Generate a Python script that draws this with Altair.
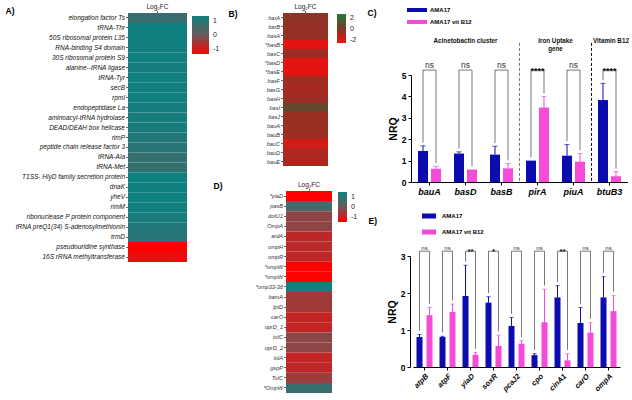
import json

import altair as alt
import pandas as pd

FONT = "Liberation Sans"
LFC = "Log\u2082FC"
BLUE = "#0b0bb0"
PINK = "#f54bd6"
GROUPS = ["AMA17", "AMA17 vit B12"]

# ---------------- A) log2 fold change: translation / stress genes ----------------
a_genes = [
    "elongation factor Ts", "tRNA-Thr", "50S ribosomal protein L35", "RNA-binding S4 domain",
    "30S ribosomal protein S9", "alanine--tRNA ligase", "tRNA-Tyr", "secB", "rpmI",
    "endopeptidase La", "aminoacyl-tRNA hydrolase", "DEAD/DEAH box helicase", "rimP",
    "peptide chain release factor 3", "tRNA-Ala", "tRNA-Met", "T1SS- HlyD family secretion protein",
    "dnaK", "yheV", "rimM", "ribonuclease P protein component",
    "tRNA preQ1(34) S-adenosylmethionin", "trmD", "pseudouridine synthase",
    "16S rRNA methyltransferase",
]
a_lfc = [0.75, 1.4, 1.35, 1.35, 1.35, 1.3, 1.35, 1.35, 1.35, 1.3, 1.3, 1.25, 1.1, 1.0,
         0.85, 0.85, 1.4, 1.4, 1.4, 1.35, 1.25, 1.1, 1.0, -1.4, -1.2]

# ---------------- B) acinetobactin cluster ----------------
b_genes = ["barA", "barB", "basA", "*basB", "basC", "*basD", "*basE", "basF", "basG",
           "basH", "basI", "basJ", "bauA", "bauB", "bauC", "bauD", "bauE"]
b_lfc = [-0.35, -0.45, -0.45, -1.8, -0.6, -1.8, -1.8, -0.65, -0.75,
         -0.6, 0.45, -0.55, -0.5, -0.6, -1.5, -0.9, -0.85]

# ---------------- D) membrane / transport genes ----------------
d_genes = ["*yiaD", "pasB", "dotU1", "OmpA", "ardA", "ompH", "ompR", "*ompW", "*ompW",
           "*omp33-36", "bamA", "lptD", "carO", "oprD_1", "tolC", "oprD_2", "lolA",
           "gspP", "TolC", "*OmpW"]
d_lfc = [-1.5, 0.5, -0.35, -0.35, -0.85, -0.8, -0.85, -1.5, -1.5,
         1.4, -0.55, -0.55, -0.9, -0.9, -0.32, -0.35, -0.9, -0.85, -0.5, 0.8]

# ---------------- C) qPCR, iron uptake genes ----------------
c_genes = ["bauA", "basD", "basB", "pirA", "piuA", "btuB3"]
c_ama = [1.45, 1.33, 1.28, 1.0, 1.23, 3.83]
c_ama_err = [0.24, 0.08, 0.39, 0.0, 0.52, 0.78]
c_b12 = [0.62, 0.58, 0.64, 3.48, 0.95, 0.27]
c_b12_err = [0.11, 0.0, 0.22, 0.52, 0.38, 0.21]
c_sig = ["ns", "ns", "ns", "****", "ns", "****"]
# section headings: anchor gene, text, position across the anchor's band
c_sections = [("basD", "Acinetobactin cluster", 0.5), ("pirA", "Iron Uptake\ngene", 1.0),
              ("btuB3", "Vitamin B12", 0.54)]
c_dividers = [("pirA", "#777777"), ("btuB3", "#111111")]

# ---------------- E) qPCR, membrane genes ----------------
e_genes = ["atpB", "atpF", "yiaD", "soxR", "pcaJ2", "cpo", "cinA1", "carO", "ompA"]
e_ama = [0.81, 0.81, 1.92, 1.74, 1.11, 0.32, 1.88, 1.19, 1.88]
e_ama_err = [0.07, 0.02, 0.83, 0.16, 0.23, 0.04, 0.32, 0.42, 0.56]
e_b12 = [1.40, 1.49, 0.33, 0.57, 0.63, 1.21, 0.18, 0.93, 1.51]
e_b12_err = [0.21, 0.21, 0.06, 0.29, 0.08, 0.89, 0.18, 0.27, 0.42]
e_sig = ["ns", "ns", "**", "*", "ns", "ns", "**", "ns", "ns"]

TEAL_RED = ["#ff0000", "#6a5a5a", "#0f8080"]
GREEN_RED = ["#f01010", "#7a3a2a", "#227a38"]


def heatmap(genes, values, x_range, y_range, letter, letter_pos, c_domain, c_range,
            leg_pos, leg_len, leg_thick, leg_values, label_size, label_color):
    left, right = x_range
    top, bottom = y_range
    df = pd.DataFrame({"row": list(range(len(genes))), "lfc": values, "col": LFC})
    y_axis = alt.Axis(
        orient="left", offset=-left, title=letter, titleAngle=0,
        titleX=letter_pos[0] - left, titleY=letter_pos[1], titleAlign="left",
        titleBaseline="middle", titleFontSize=8.5, titleFontWeight="bold", titleColor="black",
        labelExpr=json.dumps(genes) + "[datum.value]", labelFontSize=label_size,
        labelFontStyle="italic", labelColor=label_color, labelPadding=1, labelLimit=0,
        tickSize=2.5, tickColor="#666", domain=False, grid=False,
    )
    x_axis = alt.Axis(
        orient="top", offset=-top, labelAngle=0, labelFontSize=6.5, labelColor="#222",
        labelPadding=1, tickSize=2.5, tickColor="#666", domain=False, grid=False,
    )
    return alt.Chart(df).mark_rect().encode(
        x=alt.X("col:N", title=None, axis=x_axis,
                scale=alt.Scale(domain=[LFC], range=[left, right], paddingInner=0, paddingOuter=0)),
        y=alt.Y("row:O", axis=y_axis,
                scale=alt.Scale(domain=list(range(len(genes))), range=[top, bottom],
                                paddingInner=0, paddingOuter=0)),
        color=alt.Color(
            "lfc:Q",
            scale=alt.Scale(domain=c_domain, range=c_range, interpolate="rgb"),
            legend=alt.Legend(
                orient="none", legendX=leg_pos[0], legendY=leg_pos[1], direction="vertical",
                gradientLength=leg_len, gradientThickness=leg_thick, values=leg_values,
                title=None, labelFontSize=7, labelOffset=4, padding=0,
                gradientStrokeWidth=0, labelColor="#222", labelExpr="'' + datum.value",
            ),
        ),
    )


def bar_panel(genes, ama, ama_err, b12, b12_err, sig, cfg):
    rows = []
    for g, m1, e1, m2, e2 in zip(genes, ama, ama_err, b12, b12_err):
        rows.append({"gene": g, "group": GROUPS[0], "nrq": m1, "err": e1, "hi": m1 + e1})
        rows.append({"gene": g, "group": GROUPS[1], "nrq": m2, "err": e2, "hi": m2 + e2})
    df = pd.DataFrame(rows)

    # comparison brackets: leg up from each bar, across, and down to the other bar
    top = cfg["bracket"]
    gap = cfg["bracket_gap"]
    br = []
    for g, m1, e1, m2, e2 in zip(genes, ama, ama_err, b12, b12_err):
        br += [
            {"gene": g, "group": GROUPS[0], "yb": m1 + e1 + gap, "seq": 0},
            {"gene": g, "group": GROUPS[0], "yb": top, "seq": 1},
            {"gene": g, "group": GROUPS[1], "yb": top, "seq": 2},
            {"gene": g, "group": GROUPS[1], "yb": m2 + e2 + gap, "seq": 3},
        ]
    df_br = pd.DataFrame(br)
    df_sig = pd.DataFrame({"gene": genes, "sig": sig, "yb": top})

    base_y, plot_h = cfg["y_range"][0], 400
    x_axis = alt.Axis(
        orient="bottom", offset=base_y - plot_h, labelAngle=cfg["label_angle"],
        labelFontSize=cfg["label_size"], labelFontWeight="bold", labelFontStyle="italic",
        labelColor="black", labelPadding=2, tickSize=3, tickColor="black", domainColor="black",
        grid=False, title=cfg["letter"], titleAngle=0, titleX=cfg["letter_pos"][0],
        titleY=cfg["letter_pos"][1] - base_y, titleAlign="left", titleBaseline="middle",
        titleFontSize=8.5, titleFontWeight="bold", titleColor="black",
    )
    y_axis = alt.Axis(
        orient="left", offset=-cfg["y_axis_x"], values=cfg["y_ticks"], labelFontSize=8.5,
        labelFontWeight="bold", labelColor="black", tickSize=3, tickColor="black",
        domainColor="black", grid=False, titleFontSize=10.5, titleFontWeight="bold",
        titleColor="black", titlePadding=3,
    )
    x_scale = alt.Scale(domain=genes, range=cfg["x_range"], paddingInner=0, paddingOuter=0)
    y_scale = alt.Scale(domain=cfg["y_domain"], range=cfg["y_range"], nice=False, zero=True)

    def X(**kw):
        return alt.X("gene:N", scale=x_scale, axis=x_axis, **kw)

    def Y(field=None, datum=None):
        if field is not None:
            return alt.Y(f"{field}:Q", title="NRQ", scale=y_scale, axis=y_axis)
        return alt.Y(datum=datum, type="quantitative", title="NRQ", scale=y_scale, axis=y_axis)

    xo = alt.XOffset("group:N", sort=GROUPS,
                     scale=alt.Scale(domain=GROUPS, paddingInner=cfg["sub_pad"][0],
                                     paddingOuter=cfg["sub_pad"][1]))
    w, h = cfg["swatch"]
    swatch = f"M-1,{-h / w:.3f}H1V{h / w:.3f}H-1Z"
    color = alt.Color(
        "group:N", scale=alt.Scale(domain=GROUPS, range=[BLUE, PINK]),
        legend=alt.Legend(
            orient="none", legendX=cfg["legend_pos"][0], legendY=cfg["legend_pos"][1],
            title=None, symbolType=swatch, symbolSize=w * w, symbolStrokeWidth=0,
            symbolOpacity=1, clipHeight=cfg["clip_h"], rowPadding=cfg["row_pad"],
            labelOffset=cfg["label_offset"], labelFontSize=6, labelFontWeight="bold",
            labelColor="black", padding=0,
        ),
    )
    color_plain = alt.Color("group:N", scale=alt.Scale(domain=GROUPS, range=[BLUE, PINK]),
                            legend=None)

    base = alt.Chart(df)
    bars = base.mark_bar().encode(x=X(), xOffset=xo, y=Y("nrq"), color=color)
    errs = base.transform_filter("datum.err > 0")
    err_rule = errs.mark_rule(strokeWidth=1).encode(
        x=X(), xOffset=xo, y=Y("nrq"), y2="hi:Q", color=color_plain)
    err_cap = errs.mark_tick(thickness=1, size=cfg["cap"]).encode(
        x=X(), xOffset=xo, y=Y("hi"), color=color_plain)
    brackets = alt.Chart(df_br).mark_line(color="#555555", strokeWidth=0.8).encode(
        x=X(), xOffset=xo, y=Y("yb"), detail="gene:N", order="seq:Q")
    ns_text = alt.Chart(df_sig).transform_filter("datum.sig == 'ns'").mark_text(
        baseline="bottom", dy=cfg["ns_dy"], fontSize=cfg["ns_size"], color="#333333"
    ).encode(x=X(), y=Y("yb"), text="sig:N")
    star_text = alt.Chart(df_sig).transform_filter("datum.sig != 'ns'").mark_text(
        baseline="bottom", dy=cfg["star_dy"], fontSize=cfg["star_size"], fontWeight="bold",
        color="#111111"
    ).encode(x=X(), y=Y("yb"), text="sig:N")
    layers = [bars, err_rule, err_cap, brackets, ns_text, star_text]

    text_kw = dict(baseline="top", fontSize=6.3, fontWeight="bold", color="#111111",
                   lineBreak="\n", lineHeight=8)
    for gene, label, band_pos in cfg.get("sections", []):
        sec = pd.DataFrame({"gene": [gene], "label": [label]})
        layers.append(
            alt.Chart(sec).mark_text(**text_kw).encode(
                x=X(bandPosition=band_pos), y=Y(datum=cfg["section_y"]), text="label:N")
        )
    for gene, stroke in cfg.get("dividers", []):
        div = pd.DataFrame({"gene": [gene]})
        layers.append(
            alt.Chart(div).mark_rule(strokeDash=[3, 2], strokeWidth=1, color=stroke).encode(
                x=X(bandPosition=0), y=Y(datum=cfg["divider_top"]), y2=alt.Y2(datum=0))
        )
    return alt.layer(*layers)


heat_a = heatmap(a_genes, a_lfc, (128, 187), (13, 262), "A)", (5, 10),
                 [-1.4, 0, 1.4], TEAL_RED, (192, 16), 38, 17, [1, 0, -1], 6.5, "#111111")
heat_b = heatmap(b_genes, b_lfc, (283, 328), (13, 166), "B)", (228, 13),
                 [-2, 0, 2], GREEN_RED, (337, 14), 29, 9, [2, 0, -2], 5.6, "#333333")
heat_d = heatmap(d_genes, d_lfc, (286, 332), (191, 393), "D)", (213, 185),
                 [-1.5, 0, 1.5], TEAL_RED, (338, 192), 30, 9, [1, 0, -1], 5.6, "#333333")

panel_c = bar_panel(c_genes, c_ama, c_ama_err, c_b12, c_b12_err, c_sig, {
    "x_range": [411.5, 627.5], "y_domain": [0, 5], "y_range": [182, 75], "y_axis_x": 411,
    "y_ticks": [0, 1, 2, 3, 4, 5], "bracket": 5.23, "bracket_gap": 0.15,
    "letter": "C)", "letter_pos": (367, 12), "label_angle": 0, "label_size": 9,
    "sub_pad": (0.23, 0.5), "swatch": (20, 4), "legend_pos": (407, 6.5), "clip_h": 7,
    "row_pad": 5, "label_offset": 3, "cap": 5, "ns_dy": 0, "ns_size": 8.5,
    "star_dy": 6, "star_size": 9,
    "sections": c_sections, "dividers": c_dividers,
    "section_y": 6.72, "divider_top": 6.5,
})

panel_e = bar_panel(e_genes, e_ama, e_ama_err, e_b12, e_b12_err, e_sig, {
    "x_range": [413, 620], "y_domain": [0, 3], "y_range": [367, 256], "y_axis_x": 410,
    "y_ticks": [0, 1, 2, 3], "bracket": 3.13, "bracket_gap": 0.1,
    "letter": "E)", "letter_pos": (368, 220), "label_angle": -45, "label_size": 7.5,
    "sub_pad": (0.4, 0.35), "swatch": (14, 5), "legend_pos": (422, 212), "clip_h": 8,
    "row_pad": 8, "label_offset": 6, "cap": 4, "ns_dy": 0, "ns_size": 6,
    "star_dy": 5, "star_size": 8,
})

chart = (
    alt.layer(heat_a, heat_b, heat_d, panel_c, panel_e)
    .resolve_scale(x="independent", y="independent", color="independent",
                   xOffset="independent")
    .properties(width=632, height=400, padding=0, background="white",
                autosize=alt.AutoSizeParams(type="none"))
    .configure(font=FONT)
    .configure_view(stroke="transparent")
)

chart.save("out.html", embed_options={"renderer": "svg", "actions": False})
